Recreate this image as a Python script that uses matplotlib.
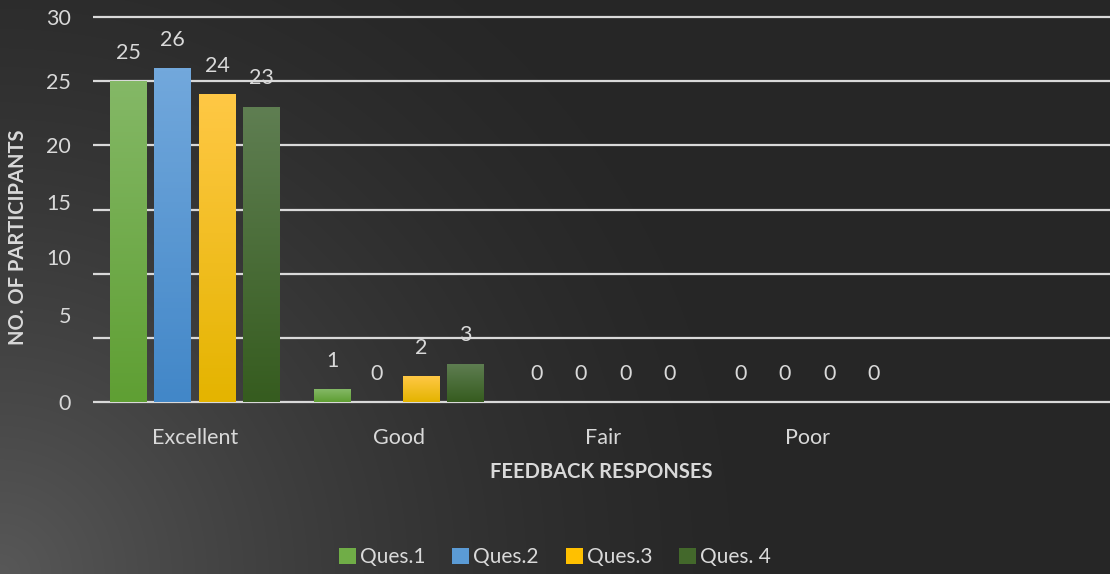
import numpy as np
import matplotlib
matplotlib.use("Agg")
import matplotlib.pyplot as plt
from matplotlib.colors import LinearSegmentedColormap

# data
categories = ['Excellent', 'Good', 'Fair', 'Poor', '']
series = ['Ques.1', 'Ques.2', 'Ques.3', 'Ques. 4']
ques1 = [25, 1, 0, 0, 0]
ques2 = [26, 0, 0, 0, 0]
ques3 = [24, 2, 0, 0, 0]
ques4 = [23, 3, 0, 0, 0]
ytick_labels = ['0', '5', '10', '15', '20', '25', '30']

# the y labels in the original sit off their gridlines
ytick_label_pos = [0, 6.8, 11.3, 15.6, 20, 25, 30]

# (top, bottom) gradient colours for each series
grad = [('#84b866', '#5f9f33'),
        ('#72a8dc', '#4287c8'),
        ('#ffc845', '#e4b400'),
        ('#5f7e52', '#365c1f')]
mid = ['#70ad47', '#5b9bd5', '#ffc000', '#43682b']

txt = '#d9d9d9'
plt.rcParams['font.family'] = ['Lato', 'DejaVu Sans']

fig = plt.figure(figsize=(11.1, 5.74), dpi=100)

# dark radial background, lighter towards the lower left corner
bg = fig.add_axes([0, 0, 1, 1], zorder=-5)
yy, xx = np.mgrid[0:574, 0:1110]
d = np.hypot(xx, 574 - yy)
v = (38 + 50 * np.clip(1 - d / 800, 0, 1) ** 1.6) / 255
bg.imshow(np.dstack([v, v, v]), aspect='auto', extent=[0, 1, 0, 1])
bg.set_axis_off()

ax = fig.add_axes([0.0838, 0.2929, 0.9162, 0.6841])
ax.patch.set_alpha(0)

x = np.arange(len(categories))
w = 0.181
step = 0.218
data = [ques1, ques2, ques3, ques4]
handles = []
for j, vals in enumerate(data):
    xs = x + (j - 1.5) * step
    bars = ax.bar(xs, vals, w, color=mid[j], lw=0, label=series[j], zorder=2)
    handles.append(bars)
    cmap = LinearSegmentedColormap.from_list('g%d' % j, [grad[j][1], grad[j][0]])
    for b, val in zip(bars, vals):
        if val > 0:
            im = ax.imshow(np.linspace(0, 1, 100).reshape(-1, 1), cmap=cmap,
                           origin='lower', aspect='auto', zorder=3,
                           extent=[b.get_x(), b.get_x() + b.get_width(), 0, val])
            im.set_clip_path(b)
    for xi, val in zip(xs, vals):
        if categories[int(round(xi))] == '':
            continue
        ax.annotate(str(val), (xi, val), xytext=(0, 20.5), textcoords='offset points',
                    ha='center', va='center', color=txt, fontsize=15.5, zorder=4)
ax.set_xlim(-0.5, 4.485)
ax.set_ylim(-0.3, 30.3)

for g in range(0, 31, 5):
    ax.axhline(g, color='#d9d9d9', lw=1.6, zorder=1)
ax.set_yticks(ytick_label_pos, labels=ytick_labels)
ax.set_xticks(x, categories)
ax.tick_params(which='both', length=0, colors=txt, labelsize=15.5)
ax.tick_params(axis='y', pad=16)
ax.tick_params(axis='x', pad=16)
for s in ax.spines.values():
    s.set_visible(False)

fig.text(0.5419, 0.1777, 'FEEDBACK RESPONSES', ha='center', va='center',
         color=txt, fontsize=14.5, fontweight='bold')
fig.text(0.0162, 0.587, 'NO. OF PARTICIPANTS', ha='center', va='center',
         rotation=90, color=txt, fontsize=14.5, fontweight='bold')

fig.legend(handles=handles, loc='center', bbox_to_anchor=(0.5, 0.03), ncol=4,
           frameon=False, fontsize=15, labelcolor=txt, handlelength=0.8,
           handleheight=0.8, handletextpad=0.2, columnspacing=1.3)

fig.savefig('out.png', dpi=100)
